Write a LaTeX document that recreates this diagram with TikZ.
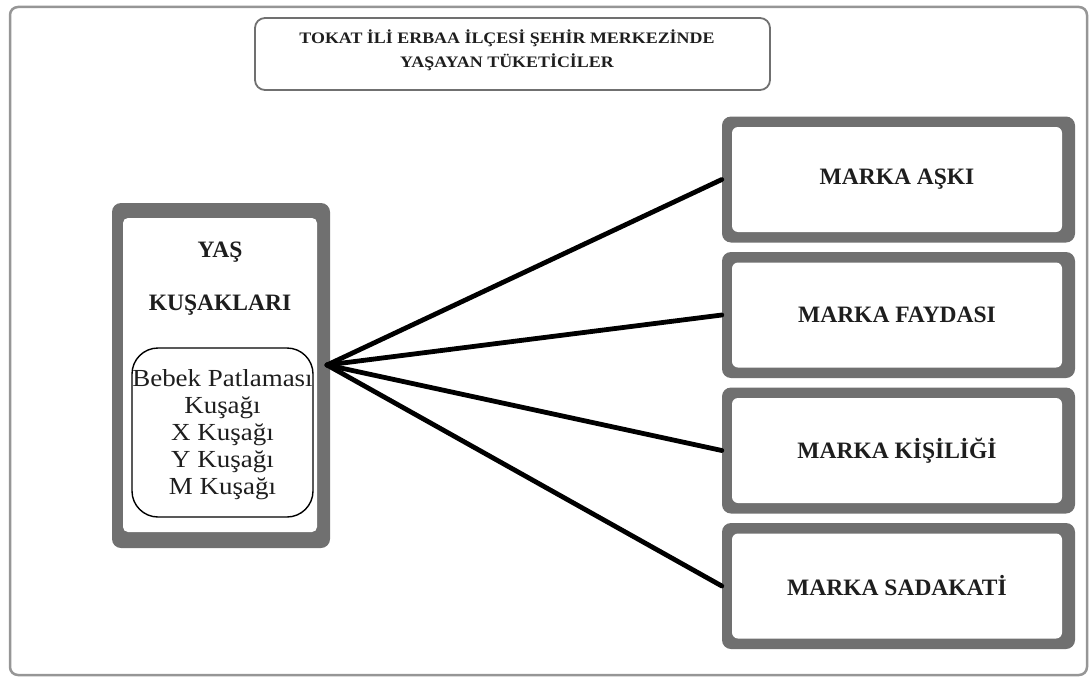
\documentclass[tikz,border=0pt]{standalone}
\usepackage{fontspec}
\setmainfont{Liberation Serif}
\newfontfamily\headfont[FakeStretch=1.12]{Liberation Serif}
\newfontfamily\listfont[FakeStretch=1.1]{Liberation Serif}
\definecolor{framegray}{RGB}{150,150,150}
\definecolor{boxgray}{RGB}{112,112,112}
\definecolor{inkgray}{RGB}{30,30,30}
\begin{document}
\begin{tikzpicture}[x=1pt,y=-1pt,
  shell/.style={fill=boxgray, rounded corners=9pt, minimum width=353pt,
    minimum height=126pt, inner sep=0pt},
  core/.style={fill=white, rounded corners=6pt, minimum width=330pt,
    minimum height=105pt, inner sep=0pt, text=inkgray,
    font=\bfseries\fontsize{23.5}{28}\selectfont},
  heading/.style={text=inkgray, inner sep=0pt,
    font=\bfseries\fontsize{23.5}{28}\selectfont},
  conn/.style={line width=4.8pt, line cap=round, black}]
\useasboundingbox (0,0) rectangle (1091,677);

% outer frame
\draw[framegray, line width=2.5pt, rounded corners=8pt] (10,7) rectangle (1087,675);

% title box
\node[draw=boxgray, line width=1.8pt, rounded corners=10pt, minimum width=515pt,
  minimum height=72pt, inner sep=0pt] (title) at (512.5,54) {};
\node[align=center, text=inkgray, inner sep=0pt,
  font=\headfont\bfseries\fontsize{16}{24}\selectfont] (titletext) at (507,50)
  {TOKAT İLİ ERBAA İLÇESİ ŞEHİR MERKEZİNDE\\YAŞAYAN TÜKETİCİLER};

% left box: age generations
\node[fill=boxgray, rounded corners=9pt, minimum width=218pt, minimum height=345pt,
  inner sep=0pt] (gen) at (221,375.5) {};
\node[fill=white, rounded corners=5pt, minimum width=194pt, minimum height=314pt,
  inner sep=0pt] (genin) at (220,375) {};
\node[heading] (yas) at (220,252) {YAŞ};
\node[heading] (kusak) at (220,305) {KUŞAKLARI};
\node[draw=black, line width=1.4pt, rounded corners=26pt, minimum width=181pt,
  minimum height=169pt, inner sep=0pt] (list) at (222.5,432.5) {};
\node[align=center, text=inkgray, inner sep=0pt,
  font=\listfont\fontsize{24.5}{27}\selectfont] (listtext) at (222.5,435)
  {Bebek Patlaması\\Kuşağı\\X Kuşağı\\Y Kuşağı\\M Kuşağı};

% right boxes: brand concepts
\node[shell] (love) at (898.5,179.5) {};
\node[core] (lovein) at (897,179.5) {MARKA AŞKI};
\node[shell] (benefit) at (898.5,315) {};
\node[core] (benefitin) at (897,315) {MARKA FAYDASI};
\node[shell] (person) at (898.5,450.5) {};
\node[core] (personin) at (897,450.5) {MARKA KİŞİLİĞİ};
\node[shell] (loyal) at (898.5,586) {};
\node[core] (loyalin) at (897,586) {MARKA SADAKATİ};

% connectors
\coordinate (hub) at (327,365);
\draw[conn] (hub) -- (love.west);
\draw[conn] (hub) -- (benefit.west);
\draw[conn] (hub) -- (person.west);
\draw[conn] (hub) -- (loyal.west);
\end{tikzpicture}
\end{document}
